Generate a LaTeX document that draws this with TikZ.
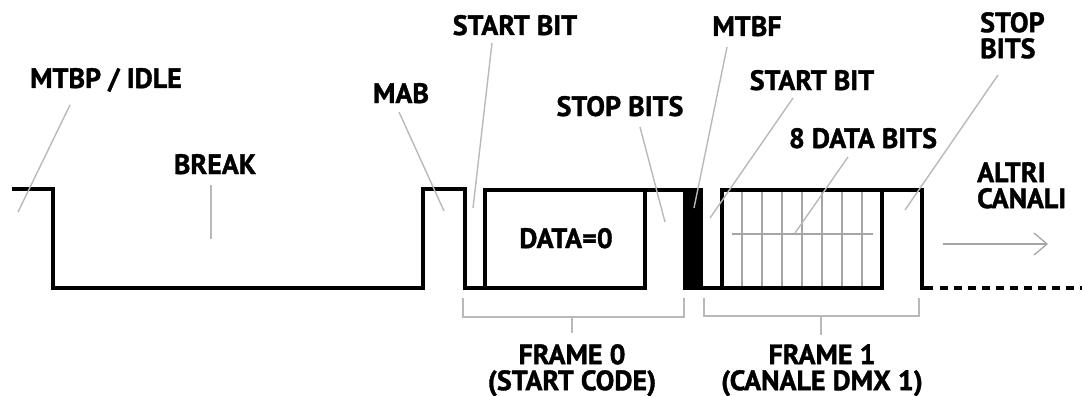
\documentclass[tikz,border=0pt]{standalone}
\usepackage{fontspec}
\setmainfont{PT Sans}[BoldFeatures={FakeBold=1.3}]
\usetikzlibrary{arrows.meta}
\definecolor{leadgray}{RGB}{185,185,185}
\definecolor{gridgray}{RGB}{165,165,165}
\tikzset{
  lblfont/.style={font=\fontsize{28}{26}\selectfont\bfseries},
  lbl/.style={lblfont, inner sep=0pt, anchor=base},
  lblml/.style={lblfont, inner sep=0pt, align=left, anchor=north west},
  lblmc/.style={lblfont, inner sep=0pt, align=center, anchor=north},
  wave/.style={line width=3.6pt, black, line join=miter},
  leader/.style={line width=1.4pt, leadgray},
  brack/.style={line width=1.8pt, leadgray},
  gridl/.style={line width=1.3pt, gridgray},
}
\begin{document}
\begin{tikzpicture}[x=1pt,y=-1pt]
\useasboundingbox (0,0) rectangle (1082,396);
% waveform
\draw[wave] (12,189) -- (53,189) -- (53,288) -- (423,288) -- (423,189) -- (465,189) -- (465,288) -- (485,288) -- (485,190) -- (685,190);
\draw[wave] (485,190) rectangle (645,288);
\fill[black] (683,188.2) rectangle (703,289.8);
\draw[wave] (703,288) -- (722,288) -- (722,190) -- (922,190) -- (922,288) -- (933,288);
\draw[wave] (722,190) rectangle (882,288);
\draw[wave, dash pattern=on 8pt off 6pt] (940,288) -- (1082,288);
% grid of data bits
\foreach \x in {742,762,...,862} \draw[gridl] (\x,192) -- (\x,286);
\draw[gridl] (732,234) -- (873,234);
% arrow
\coordinate (arrS) at (943,244);
\coordinate (arrE) at (1048,244);
\draw[gridl, -{Straight Barb[length=13pt,width=22pt,line width=1.3pt]}] (arrS) -- (arrE);
% labels
\node[lbl] (idle) at (106,88) {MTBP / IDLE};
\node[lbl] (break) at (215,174) {BREAK};
\node[lbl] (mab) at (401,103) {MAB};
\node[lbl] (sb0) at (515,35) {START BIT};
\node[lbl] (stop0) at (620,116) {STOP BITS};
\node[lbl] (data0) at (566,248) {DATA=0};
\node[lbl] (mtbf) at (747,36) {MTBF};
\node[lbl] (sb1) at (812,90) {START BIT};
\node[lbl] (db) at (863,148) {8 DATA BITS};
\node[lblml] (stop1) at (980,12) {STOP\\BITS};
\node[lblml] (altri) at (977,162) {ALTRI\\CANALI};
\node[lblmc] (f0) at (572,344) {FRAME 0\\(START CODE)};
\node[lblmc] (f1) at (822,344) {FRAME 1\\(CANALE DMX 1)};
% leader ends
\coordinate (idleA) at (70,105);   \coordinate (idleB) at (18,212);
\coordinate (breakA) at (211,185); \coordinate (breakB) at (211,239);
\coordinate (mabA) at (399,112);   \coordinate (mabB) at (444,211);
\coordinate (sb0A) at (492,43);    \coordinate (sb0B) at (473,208);
\coordinate (stop0A) at (640,127); \coordinate (stop0B) at (665,222);
\coordinate (mtbfA) at (727,47);   \coordinate (mtbfB) at (694,208);
\coordinate (sb1A) at (793,98);    \coordinate (sb1B) at (710,218);
\coordinate (dbA) at (848,157);    \coordinate (dbB) at (795,233);
\coordinate (stop1A) at (998,75);  \coordinate (stop1B) at (905,210);
\foreach \n in {idle,break,mab,sb0,stop0,mtbf,sb1,db,stop1}
  \draw[leader] (\n A) -- (\n B);
% brackets
\coordinate (b0l) at (463,298); \coordinate (b0r) at (684,298);
\coordinate (b0m) at (572,317); \coordinate (b0t) at (572,333);
\draw[brack] (b0l) |- (b0m) -| (b0r);
\draw[brack] (b0m) -- (b0t);
\coordinate (b1l) at (704,298); \coordinate (b1r) at (919,298);
\coordinate (b1m) at (821,316); \coordinate (b1t) at (821,335);
\draw[brack] (b1l) |- (b1m) -| (b1r);
\draw[brack] (b1m) -- (b1t);
\end{tikzpicture}
\end{document}
